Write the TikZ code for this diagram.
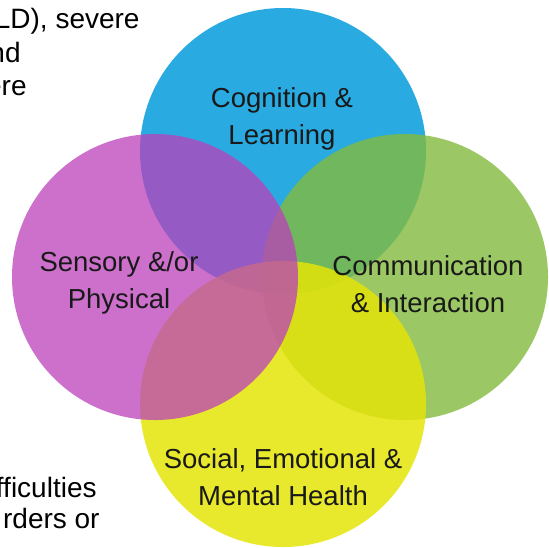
\documentclass[tikz,border=0pt]{standalone}
\usepackage{fontspec}
\setmainfont{Liberation Sans}
\definecolor{cogblue}{RGB}{41,171,226}
\definecolor{comgreen}{RGB}{130,186,61}
\definecolor{semhyellow}{RGB}{228,228,8}
\definecolor{sensmagenta}{RGB}{187,64,187}

\begin{document}
\begin{tikzpicture}[x=0.5pt, y=-0.5pt,
  area/.style={circle, minimum size=143pt, inner sep=0pt},
  area label/.style={align=center, text=black!90, font=\fontsize{13.75}{18.5}\selectfont},
  page text/.style={anchor=base east, inner sep=0pt, font=\fontsize{14}{16}\selectfont}]
\useasboundingbox (0,0) rectangle (549,547);
% text of the page behind the picture
\node[page text] (p1) at (140,28) {LD), severe};
\node[page text] (p2) at (21,62) {nd};
\node[page text] (p3) at (27,95) {ere};
\node[page text] (p4) at (97,497) {fficulties};
\node[page text] (p5) at (100,528) {rders or};
% the four areas
\node[area, fill=cogblue] (cog) at (283,151) {};
\node[area, fill=comgreen, fill opacity=0.8] (com) at (405,277) {};
\node[area, fill=semhyellow, fill opacity=0.85] (semh) at (283,404) {};
\node[area, fill=sensmagenta, fill opacity=0.75] (sens) at (155,277) {};
% labels
\node[area label] (cogl) at (282,119) {Cognition \&\\Learning};
\node[area label] (coml) at (428,284) {Communication\\\& Interaction};
\node[area label] (semhl) at (283,477) {Social, Emotional \&\\Mental Health};
\node[area label] (sensl) at (119,283) {Sensory \&/or\\Physical};
\end{tikzpicture}
\end{document}
